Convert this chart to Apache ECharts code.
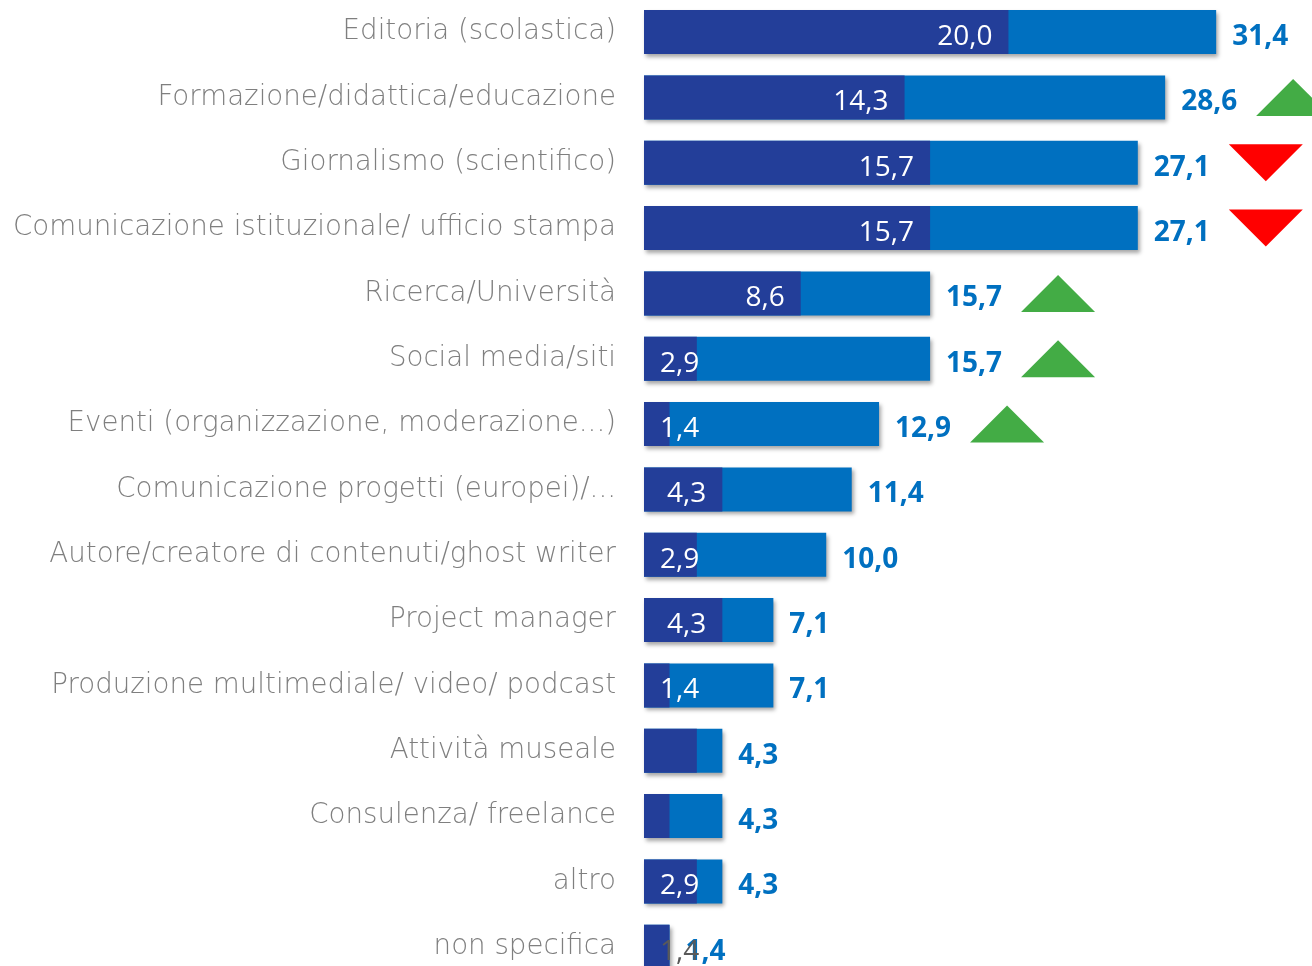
<!DOCTYPE html>
<html>
<head>
<meta charset="utf-8">
<script src="https://cdn.jsdelivr.net/npm/echarts@6/dist/echarts.min.js"></script>
<style>
html,body{margin:0;padding:0;background:#fff;}
#chart{width:1312px;height:966px;}
</style>
</head>
<body>
<div id="chart"></div>
<script>
const categories = [
  "Editoria (scolastica)",
  "Formazione/didattica/educazione",
  "Giornalismo (scientifico)",
  "Comunicazione istituzionale/ ufficio stampa",
  "Ricerca/Università",
  "Social media/siti",
  "Eventi (organizzazione, moderazione...)",
  "Comunicazione progetti (europei)/...",
  "Autore/creatore di contenuti/ghost writer",
  "Project manager",
  "Produzione multimediale/ video/ podcast",
  "Attività museale",
  "Consulenza/ freelance",
  "altro",
  "non specifica"
];
const darkValues = [20.0, 14.3, 15.7, 15.7, 8.6, 2.9, 1.4, 4.3, 2.9, 4.3, 1.4, 2.9, 1.4, 2.9, 1.4];
const darkLabelShown = [true, true, true, true, true, true, true, true, true, true, true, false, false, true, true];
const totalValues = [31.4, 28.6, 27.1, 27.1, 15.7, 15.7, 12.9, 11.4, 10.0, 7.1, 7.1, 4.3, 4.3, 4.3, 1.4];
const trend = [null, "up", "down", "down", "up", "up", "up", null, null, null, null, null, null, null, null];

const fmt = v => v.toFixed(1).replace('.', ',');

const darkData = darkValues.map((v, i) => {
  const small = v < 3.5;
  const beyond = totalValues[i] <= v;
  return {
    value: v,
    label: {
      show: darkLabelShown[i],
      position: small ? 'insideLeft' : 'insideRight',
      distance: 16,
      color: beyond ? '#595959' : '#ffffff'
    }
  };
});

const trendData = [];
trend.forEach((t, i) => {
  if (t) {
    trendData.push({
      value: [totalValues[i], i],
      symbolRotate: t === 'down' ? 180 : 0,
      itemStyle: { color: t === 'down' ? '#FF0000' : '#43AC45', opacity: 1 }
    });
  }
});

const chart = echarts.init(document.getElementById('chart'));
chart.setOption({
  animation: false,
  backgroundColor: '#ffffff',
  grid: { left: 644, right: 0, top: -0.6, height: 980, containLabel: false, outerBoundsMode: 'none' },
  xAxis: {
    type: 'value', min: 0, max: 36.66,
    show: false
  },
  yAxis: {
    type: 'category',
    data: categories,
    inverse: true,
    axisLine: { show: false },
    axisTick: { show: false },
    splitLine: { show: false },
    axisLabel: {
      margin: 28,
      color: '#7f7f7f',
      fontSize: 27.7,
      fontFamily: '"DejaVu Sans", "Open Sans", sans-serif',
      fontWeight: 200,
      padding: [11, 0, 0, 0]
    }
  },
  series: [
    {
      type: 'bar',
      data: totalValues,
      barWidth: 44,
      barGap: '-100%',
      itemStyle: {
        color: '#0070C0',
        shadowColor: 'rgba(0,0,0,0.35)',
        shadowBlur: 4,
        shadowOffsetX: 2,
        shadowOffsetY: 3
      },
      label: {
        show: true,
        position: 'right',
        distance: 16,
        offset: [0, 5],
        color: '#0070C0',
        fontSize: 28,
        fontWeight: 'bold',
        fontFamily: '"Open Sans", Lato, sans-serif',
        formatter: p => fmt(p.value)
      },
      z: 2
    },
    {
      type: 'bar',
      data: darkData,
      barWidth: 44,
      barGap: '-100%',
      itemStyle: { color: '#233E99' },
      label: {
        show: true,
        offset: [0, 5],
        fontSize: 28,
        fontFamily: '"Open Sans", Lato, sans-serif',
        formatter: p => fmt(p.value)
      },
      z: 3
    },
    {
      type: 'scatter',
      data: trendData,
      symbol: 'triangle',
      symbolSize: [74, 37],
      symbolOffset: [128, 0],
      clip: false,
      z: 4
    }
  ]
});
</script>
</body>
</html>
